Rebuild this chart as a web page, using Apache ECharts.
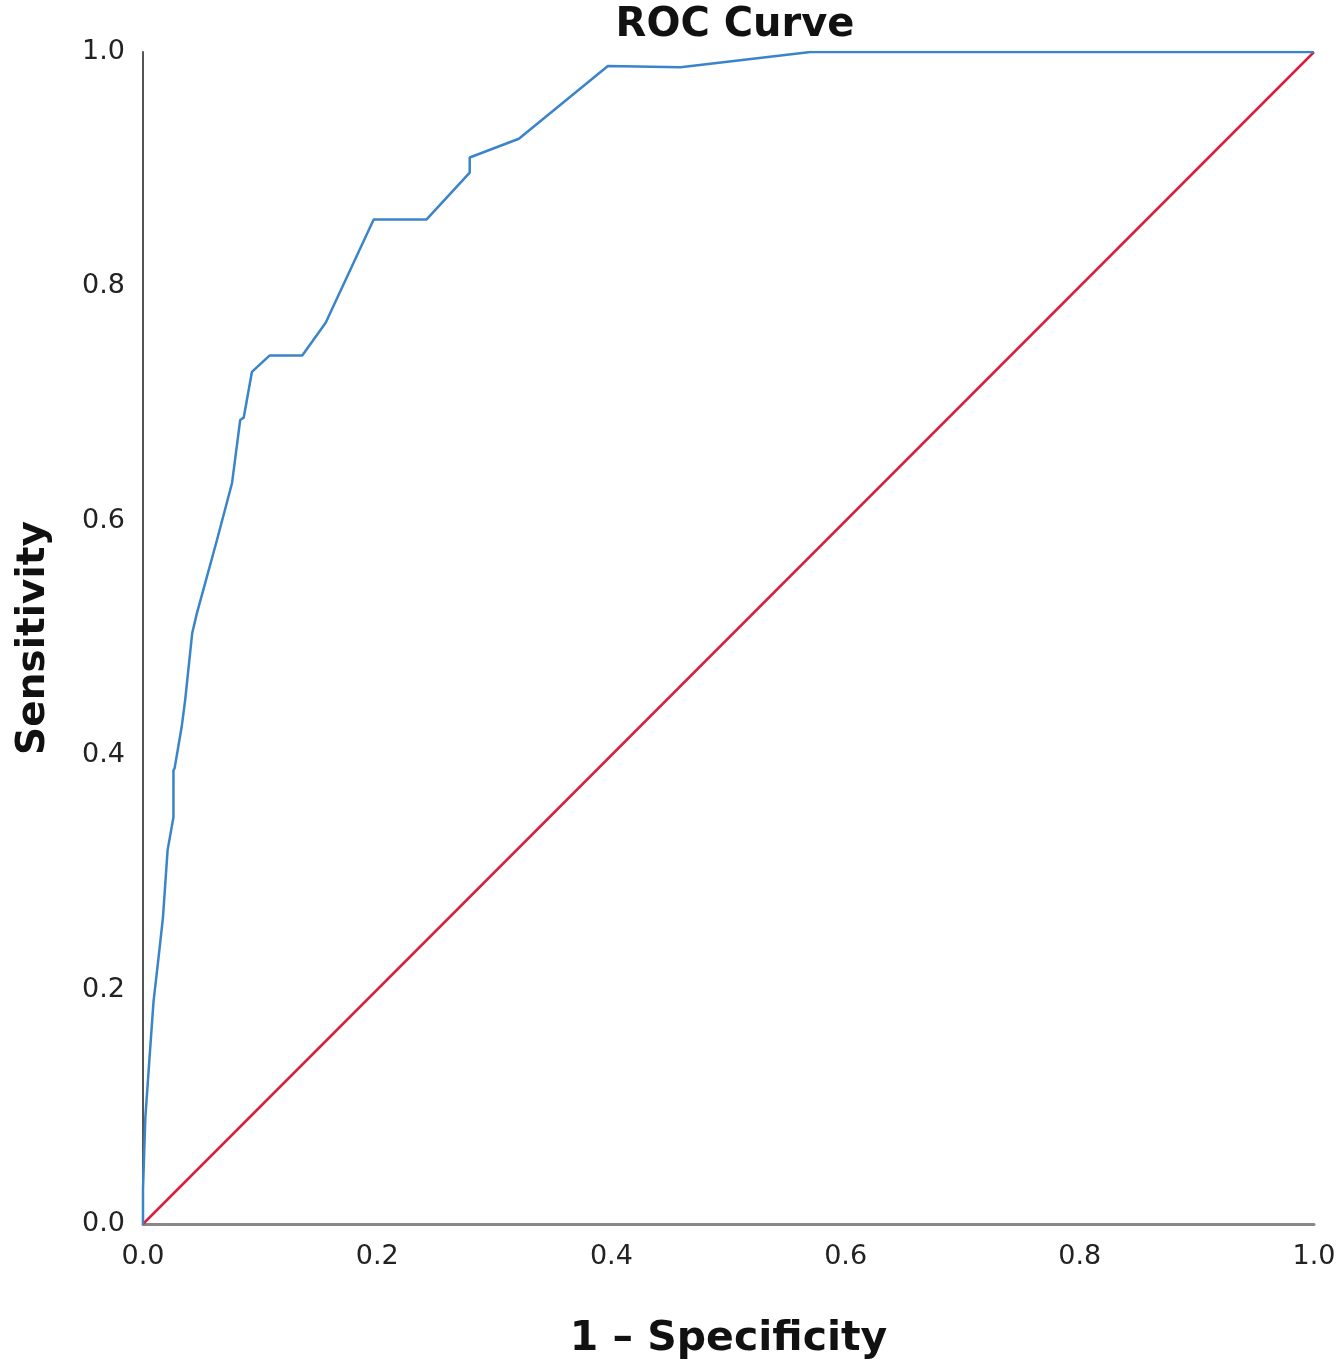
<!DOCTYPE html>
<html>
<head>
<meta charset="utf-8">
<script src="https://cdn.jsdelivr.net/npm/echarts@6/dist/echarts.min.js"></script>
<style>
  html, body { margin: 0; padding: 0; background: #fff; }
  #main { width: 1339px; height: 1365px; }
</style>
</head>
<body>
<div id="main"></div>
<script>
// ROC curve points (1 - specificity, sensitivity)
var fpr = [0, 0.000, 0.002, 0.006, 0.009, 0.013, 0.017, 0.021, 0.026, 0.026, 0.027, 0.033, 0.036, 0.042, 0.046,
           0.063, 0.076, 0.083, 0.086, 0.093, 0.108, 0.136, 0.156, 0.197, 0.242, 0.279, 0.279, 0.321, 0.397,
           0.459, 0.570, 1.0];
var tpr = [0, 0.030, 0.091, 0.148, 0.190, 0.225, 0.261, 0.319, 0.347, 0.387, 0.389, 0.424, 0.447, 0.504, 0.521,
           0.583, 0.632, 0.686, 0.688, 0.727, 0.741, 0.741, 0.769, 0.857, 0.857, 0.897, 0.910, 0.926, 0.988,
           0.987, 1.0, 1.0];
// reference (chance) line
var refX = [0, 1];
var refY = [0, 1];

function pairs(xs, ys) {
    var out = [];
    for (var i = 0; i < xs.length; i++) {
        out.push([xs[i], ys[i]]);
    }
    return out;
}

var myChart = echarts.init(document.getElementById('main'));

var option = {
    animation: false,
    backgroundColor: '#fff',
    textStyle: { fontFamily: 'DejaVu Sans' },
    title: {
        text: 'ROC Curve',
        left: 730,
        textAlign: 'center',
        top: 1,
        textStyle: { fontSize: 40, fontWeight: 'bold', color: '#111', fontFamily: 'DejaVu Sans' }
    },
    grid: { left: 143, right: 25, top: 52, bottom: 141 },
    xAxis: {
        type: 'value',
        min: 0, max: 1, interval: 0.2,
        name: '1 \u2013 Specificity',
        nameLocation: 'middle',
        nameGap: 95,
        nameTextStyle: { fontSize: 41, fontWeight: 'bold', color: '#111' },
        axisLine: { show: true, lineStyle: { color: '#888', width: 3 } },
        axisTick: { show: false },
        splitLine: { show: false },
        axisLabel: {
            fontSize: 27, color: '#222', margin: 19,
            formatter: function (v) { return v.toFixed(1); }
        }
    },
    yAxis: {
        type: 'value',
        min: 0, max: 1, interval: 0.2,
        name: 'Sensitivity',
        nameLocation: 'middle',
        nameGap: 90,
        nameTextStyle: { fontSize: 39, fontWeight: 'bold', color: '#111' },
        axisLine: { show: true, lineStyle: { color: '#555', width: 2 } },
        axisTick: { show: false },
        splitLine: { show: false },
        axisLabel: {
            fontSize: 27, color: '#222', margin: 18,
            formatter: function (v) { return v.toFixed(1); }
        }
    },
    series: [
        {
            name: 'ROC',
            type: 'line',
            data: pairs(fpr, tpr),
            showSymbol: false,
            lineStyle: { color: '#3a84c9', width: 2.5 },
            z: 3
        },
        {
            name: 'Reference',
            type: 'line',
            data: pairs(refX, refY),
            showSymbol: false,
            lineStyle: { color: '#d91f40', width: 2.5 },
            z: 2
        }
    ]
};

myChart.setOption(option);
</script>
</body>
</html>
